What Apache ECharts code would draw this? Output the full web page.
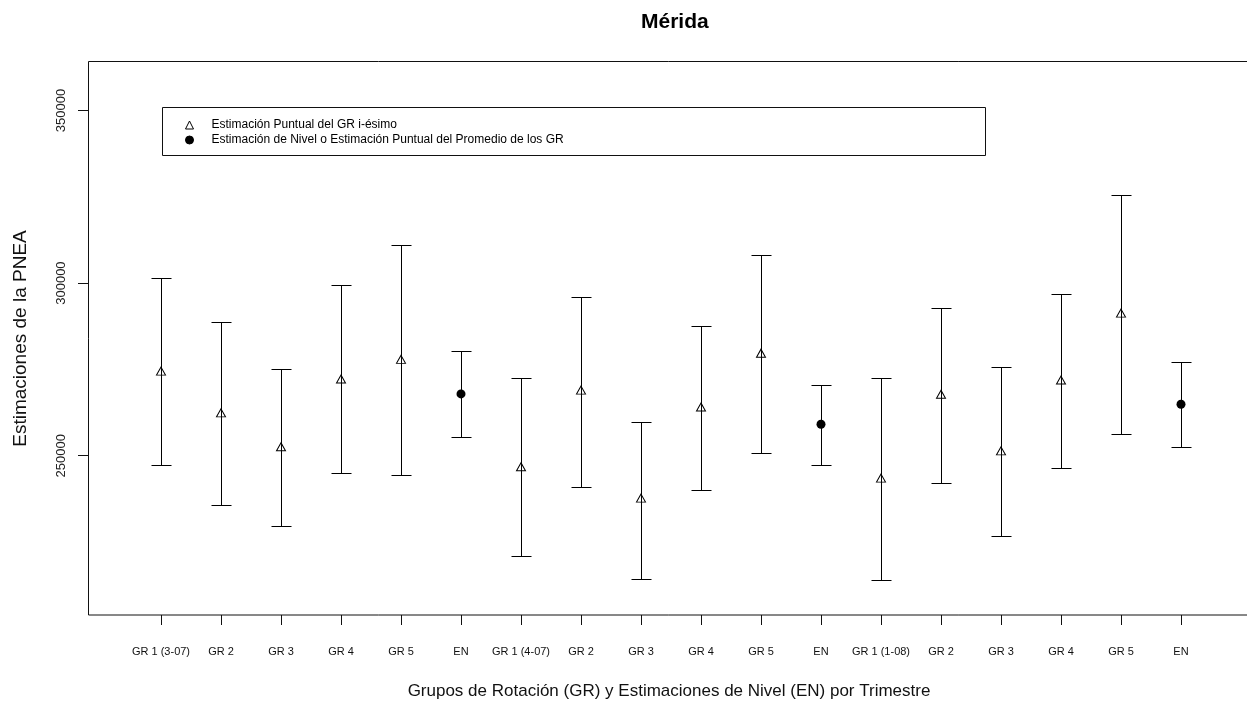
<!DOCTYPE html>
<html>
<head>
<meta charset="utf-8">
<script src="https://cdn.jsdelivr.net/npm/echarts@6/dist/echarts.min.js"></script>
<style>
  html, body { margin: 0; padding: 0; background: #fff; }
  #chart { width: 1247px; height: 706px; }
</style>
</head>
<body>
<div id="chart"></div>
<script>
// ---- data ----
const categories = ['GR 1 (3-07)', 'GR 2', 'GR 3', 'GR 4', 'GR 5', 'EN',
                    'GR 1 (4-07)', 'GR 2', 'GR 3', 'GR 4', 'GR 5', 'EN',
                    'GR 1 (1-08)', 'GR 2', 'GR 3', 'GR 4', 'GR 5', 'EN'];
const estimates = [274500, 262400, 252600, 272200, 277900, 267900,
                   246800, 269000, 237700, 264100, 279700, 259100,
                   243500, 267800, 251400, 271900, 291300, 264900];
const upperLimits = [301600, 288600, 275000, 299400, 311100, 280200,
                     272400, 296100, 259800, 287700, 308200, 270500,
                     272400, 292900, 275600, 296800, 325600, 277200];
const lowerLimits = [247400, 235700, 229600, 244900, 244500, 255500,
                     220900, 240900, 214400, 240100, 250700, 247400,
                     214000, 242200, 226700, 246500, 256200, 252400];
const yTickValues = [250000, 300000, 350000];
const legendNames = ['Estimación Puntual del GR i-ésimo',
                     'Estimación de Nivel o Estimación Puntual del Promedio de los GR'];

// ---- derived series data ----
const grPoints = [], enPoints = [], bars = [];
categories.forEach((c, i) => {
  if (c === 'EN') enPoints.push([i, estimates[i]]);
  else grPoints.push([i, estimates[i]]);
  bars.push([i, lowerLimits[i], upperLimits[i]]);
});

const FONT = "'Liberation Sans', Arial, sans-serif";
const chart = echarts.init(document.getElementById('chart'), null, { renderer: 'canvas' });

chart.setOption({
  animation: false,
  backgroundColor: '#ffffff',
  title: {
    text: 'Mérida',
    left: 636, top: 7,
    textStyle: { fontFamily: FONT, fontSize: 21, fontWeight: 'bold', color: '#000' }
  },
  legend: {
    orient: 'vertical',
    left: 180, top: 114,
    itemWidth: 8, itemHeight: 8, itemGap: 3,
    data: legendNames,
    itemStyle: { borderWidth: 1 },
    textStyle: { fontFamily: FONT, fontSize: 12, color: '#000', padding: [0, 0, 0, 13] }
  },
  grid: { left: 131, right: 36, top: 62, bottom: 91, containLabel: false },
  xAxis: {
    type: 'category',
    data: categories,
    name: 'Grupos de Rotación (GR) y Estimaciones de Nivel (EN) por Trimestre',
    nameLocation: 'middle',
    nameGap: 68,
    nameTextStyle: { fontFamily: FONT, fontSize: 17, color: '#111', verticalAlign: 'top', padding: [0, 4, 0, 0] },
    axisLine: { show: false },
    axisTick: { show: true, alignWithLabel: true, length: 10, lineStyle: { color: '#111', width: 1 } },
    axisLabel: { interval: 0, margin: 31, fontFamily: FONT, fontSize: 11, color: '#111' },
    splitLine: { show: false }
  },
  yAxis: {
    type: 'value',
    min: 203850, max: 364050,
    offset: 43,
    name: 'Estimaciones de la PNEA',
    nameLocation: 'middle',
    nameRotate: 90,
    nameGap: 58,
    nameTextStyle: { fontFamily: FONT, fontSize: 19, color: '#111' },
    axisLine: { show: false },
    axisTick: { show: true, length: 10, customValues: yTickValues, lineStyle: { color: '#111', width: 1 } },
    axisLabel: { rotate: 90, margin: 20, customValues: yTickValues, fontFamily: FONT, fontSize: 13, color: '#222',
                 formatter: function (v) { return String(Math.round(v)); } },
    splitLine: { show: false }
  },
  graphic: [
    { type: 'rect', silent: true, z: 0,
      shape: { x: 88.5, y: 61.5, width: 1165, height: 553.5 },
      style: { fill: 'none', stroke: '#111', lineWidth: 1 } },
    { type: 'rect', silent: true, z: 0,
      shape: { x: 162.5, y: 107.5, width: 823, height: 48 },
      style: { fill: 'none', stroke: '#111', lineWidth: 1 } }
  ],
  series: [
    {
      type: 'custom',
      name: 'bars',
      data: bars,
      z: 2,
      renderItem: function (params, api) {
        const x = api.value(0);
        const lo = api.coord([x, api.value(1)]);
        const hi = api.coord([x, api.value(2)]);
        const cx = Math.round(lo[0]) + 0.5;
        const ylo = Math.round(lo[1]) + 0.5, yhi = Math.round(hi[1]) + 0.5;
        const hw = 10;
        const st = { stroke: '#000', lineWidth: 1 };
        return {
          type: 'group',
          children: [
            { type: 'line', shape: { x1: cx, y1: yhi, x2: cx, y2: ylo }, style: st },
            { type: 'line', shape: { x1: cx - hw, y1: yhi, x2: cx + hw, y2: yhi }, style: st },
            { type: 'line', shape: { x1: cx - hw, y1: ylo, x2: cx + hw, y2: ylo }, style: st }
          ]
        };
      }
    },
    {
      type: 'scatter',
      name: legendNames[0],
      data: grPoints,
      symbol: 'triangle',
      symbolSize: [9, 8],
      z: 3,
      itemStyle: { color: 'rgba(255,255,255,0)', borderColor: '#000', borderWidth: 1, opacity: 1 }
    },
    {
      type: 'scatter',
      name: legendNames[1],
      data: enPoints,
      symbol: 'circle',
      symbolSize: 9,
      z: 3,
      itemStyle: { color: '#000', borderColor: '#000', borderWidth: 0, opacity: 1 }
    }
  ]
});
</script>
</body>
</html>
